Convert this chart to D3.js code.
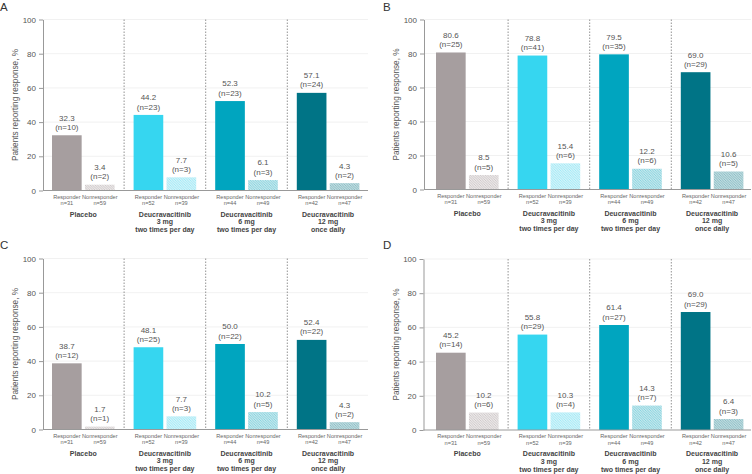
<!DOCTYPE html>
<html><head><meta charset="utf-8">
<script src="https://cdn.jsdelivr.net/npm/d3@7/dist/d3.min.js"></script>
<style>body{margin:0;background:#fff}svg{display:block}</style>
</head><body>
<svg id="c" width="752" height="474"></svg>
<script>
// ---- data ----
const groupLabels = [["Placebo"],["Deucravacitinib","3 mg","two times per day"],["Deucravacitinib","6 mg","two times per day"],["Deucravacitinib","12 mg","once daily"]];
const responseTypes = ["Responder","Nonresponder"];
const responderN = [31,52,44,42];
const nonresponderN = [59,39,49,47];
const yTicks = [0,20,40,60,80,100];
const panelNames = ["A","B","C","D"];
const respA = [32.3,44.2,52.3,57.1], respA_n = [10,23,23,24];
const nonA = [3.4,7.7,6.1,4.3], nonA_n = [2,3,3,2];
const respB = [80.6,78.8,79.5,69.0], respB_n = [25,41,35,29];
const nonB = [8.5,15.4,12.2,10.6], nonB_n = [5,6,6,5];
const respC = [38.7,48.1,50.0,52.4], respC_n = [12,25,22,22];
const nonC = [1.7,7.7,10.2,4.3], nonC_n = [1,3,5,2];
const respD = [45.2,55.8,61.4,69.0], respD_n = [14,29,27,29];
const nonD = [10.2,10.3,14.3,6.4], nonD_n = [6,4,7,3];

const panelData = [
  {resp:respA, respN:respA_n, non:nonA, nonN:nonA_n},
  {resp:respB, respN:respB_n, non:nonB, nonN:nonB_n},
  {resp:respC, respN:respC_n, non:nonC, nonN:nonC_n},
  {resp:respD, respN:respD_n, non:nonD, nonN:nonD_n}
];
// ---- layout/style ----
const geo = [
  {axisX:43, x0:42.5, y0:190.5, y1:19.5, lx:0, ly:10.5, xEnd:368},
  {axisX:424, x0:426.5, y0:189.5, y1:19.5, lx:383, ly:10.5, xEnd:751},
  {axisX:43, x0:42.5, y0:429.5, y1:258.5, lx:0, ly:249, xEnd:368},
  {axisX:423.5, x0:426.5, y0:430, y1:259, lx:383, ly:249, xEnd:751}
];
const groupW = 81.6;
const solid = ["#a69e9f","#36d6f0","#00a5bf","#007486"];
const hatchBg = ["#ebe8e8","#d2f4fa","#c3e8ee","#bfdce0"];
const hatchFg = ["#c4bebf","#8fe4f3","#74cbd7","#78b1ba"];
const font = "'Liberation Sans', Arial, sans-serif";

const svg = d3.select("#c");
const defs = svg.append("defs");
hatchBg.forEach((bg,i)=>{
  const p = defs.append("pattern").attr("id","h"+i).attr("patternUnits","userSpaceOnUse")
    .attr("width",2.5).attr("height",2.5);
  p.append("rect").attr("width",2.5).attr("height",2.5).attr("fill",bg);
  p.append("path").attr("d","M0,0L2.5,2.5M-1,1.5L1,3.5M1.5,-1L3.5,1").attr("stroke",hatchFg[i]).attr("stroke-width",0.7);
});

panelData.forEach((pd,pi)=>{
  const g = geo[pi];
  const G = svg.append("g");
  const y = d3.scaleLinear().domain([0,100]).range([g.y0,g.y1]);
  const x = d3.scaleBand().domain(d3.range(4)).range([g.x0, g.x0+4*groupW]);
  const xi = d3.scaleBand().domain(responseTypes).range([9.5, x.bandwidth()-9.5]).paddingInner(0.1);

  // gridlines
  G.selectAll(".grid").data(yTicks.slice(1)).join("line")
    .attr("x1",g.axisX).attr("x2",g.xEnd).attr("y1",d=>y(d)).attr("y2",d=>y(d))
    .attr("stroke","#ededed").attr("stroke-width",0.8);

  // dividers
  G.selectAll(".div").data([1,2,3]).join("line")
    .attr("x1",d=>x(d)).attr("x2",d=>x(d)).attr("y1",y(100)).attr("y2",y(0))
    .attr("stroke","#777").attr("stroke-width",0.8).attr("stroke-dasharray","1.5,1.5");

  // bars
  const bars = [];
  d3.range(4).forEach(i=>{
    bars.push({gi:i, t:"Responder", v:pd.resp[i], n:pd.respN[i]});
    bars.push({gi:i, t:"Nonresponder", v:pd.non[i], n:pd.nonN[i]});
  });
  const cx = d=>x(d.gi)+xi(d.t)+xi.bandwidth()/2;
  G.selectAll(".bar").data(bars).join("rect")
    .attr("x",d=>x(d.gi)+xi(d.t)).attr("width",xi.bandwidth())
    .attr("y",d=>y(d.v)).attr("height",d=>y(0)-y(d.v))
    .attr("fill",d=>d.t==="Responder"?solid[d.gi]:`url(#h${d.gi})`);

  // value labels
  G.selectAll(".vv").data(bars).join("text")
    .attr("text-anchor","middle").attr("font-family",font).attr("font-size",8).attr("fill","#555")
    .attr("x",cx).attr("y",d=>y(d.v)-14.6).text(d=>d.v.toFixed(1));
  G.selectAll(".vn").data(bars).join("text")
    .attr("text-anchor","middle").attr("font-family",font).attr("font-size",8).attr("fill","#555")
    .attr("x",cx).attr("y",d=>y(d.v)-5.4).text(d=>`(n=${d.n})`);

  // x axis line
  G.append("line").attr("x1",g.axisX).attr("x2",g.xEnd).attr("y1",y(0)).attr("y2",y(0))
    .attr("stroke","#999").attr("stroke-width",1);

  // y axis
  const ya = G.append("g").attr("transform",`translate(${g.axisX},0)`)
    .call(d3.axisLeft(y).tickValues(yTicks).tickSize(4).tickPadding(3).tickSizeOuter(0));
  ya.select(".domain").attr("stroke","#999");
  ya.selectAll(".tick line").attr("stroke","#999");
  ya.selectAll(".tick text").attr("font-family",font).attr("font-size",8).attr("fill","#555");

  // y title
  G.append("text").attr("transform",`translate(${g.axisX-25},${(y(0)+y(100))/2}) rotate(-90)`)
    .attr("text-anchor","middle").attr("font-family",font).attr("font-size",8.2).attr("fill","#555")
    .text("Patients reporting response, %");

  // response-type labels
  const rfs = 5.6;
  G.selectAll(".rl").data(bars).join("text")
    .attr("text-anchor","middle").attr("font-family",font).attr("font-size",rfs).attr("fill","#666")
    .attr("x",cx).attr("y",y(0)+8.2).text(d=>d.t);
  G.selectAll(".rn").data(bars).join("text")
    .attr("text-anchor","middle").attr("font-family",font).attr("font-size",rfs).attr("fill","#666")
    .attr("x",cx).attr("y",y(0)+14.6)
    .text(d=>`n=${d.t==="Responder"?responderN[d.gi]:nonresponderN[d.gi]}`);

  // group labels
  groupLabels.forEach((lines,i)=>{
    G.selectAll(".gl"+i).data(lines).join("text")
      .attr("text-anchor","middle").attr("font-family",font).attr("font-size",7)
      .attr("font-weight",700).attr("fill","#444")
      .attr("x",x(i)+x.bandwidth()/2).attr("y",(d,j)=>y(0)+26+j*7.9).text(d=>d);
  });

  // panel letter
  svg.append("text").attr("x",g.lx).attr("y",g.ly).attr("font-family",font).attr("font-size",11.5)
    .attr("fill","#333").text(panelNames[pi]);
});
</script>
</body></html>
